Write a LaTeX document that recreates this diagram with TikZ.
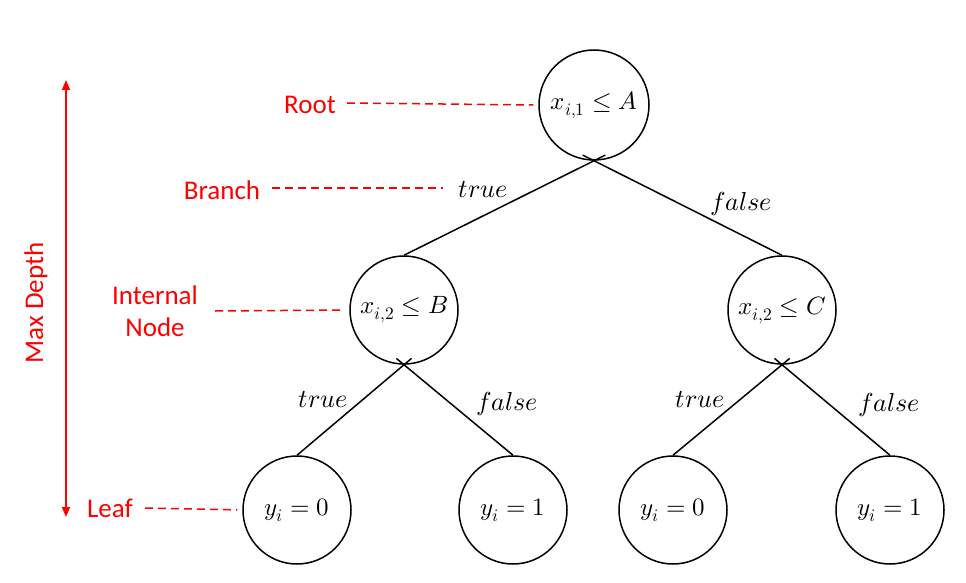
\documentclass[tikz,border=0pt]{standalone}
\usepackage{fontspec}
\usepackage{unicode-math}
\setmainfont{Carlito}
\setmathfont{Latin Modern Math}
\usetikzlibrary{calc,arrows.meta}
\begin{document}
\begin{tikzpicture}[x=1pt,y=-1pt,
  tnode/.style={circle,draw,line width=1.5pt,minimum size=108pt,inner sep=0pt,font=\fontsize{25}{30}\selectfont},
  edge/.style={line width=1.5pt},
  elabel/.style={font=\fontsize{26}{31}\selectfont},
  redtext/.style={text=red,font=\fontsize{27}{32}\selectfont,align=center},
  reddash/.style={red,line width=1.5pt,dash pattern=on 8pt off 5pt,shorten >=5pt}]
\useasboundingbox (0,0) rectangle (966,583);
% nodes
\node[tnode,minimum size=110pt] (root) at (594,105) {$x_{i,1}\leq A$};
\node[tnode] (intL) at (404,310) {$x_{i,2}\leq B$};
\node[tnode] (intR) at (782,310) {$x_{i,2}\leq C$};
\node[tnode] (l1) at (297,510) {$y_i=0$};
\node[tnode] (l2) at (513,510) {$y_i=1$};
\node[tnode] (l3) at (673,510) {$y_i=0$};
\node[tnode] (l4) at (890,510) {$y_i=1$};
% edges
\draw[edge] (intL.north) -- ($(intL.north)!1.06!(root.south)$);
\draw[edge] (intR.north) -- ($(intR.north)!1.06!(root.south)$);
\draw[edge] (l1.north) -- ($(l1.north)!1.07!(intL.south)$);
\draw[edge] (l2.north) -- ($(l2.north)!1.07!(intL.south)$);
\draw[edge] (l3.north) -- ($(l3.north)!1.07!(intR.south)$);
\draw[edge] (l4.north) -- ($(l4.north)!1.07!(intR.south)$);
% edge labels
\node[elabel] (t1) at (483,190) {$true$};
\node[elabel] (f1) at (741,204) {$false$};
\node[elabel] (t2) at (323,400) {$true$};
\node[elabel] (f2) at (507,404) {$false$};
\node[elabel] (t3) at (700,400) {$true$};
\node[elabel] (f3) at (889,405) {$false$};
% red annotations
\node[redtext] (lroot) at (310,105) {Root};
\node[redtext] (lbranch) at (222,190) {Branch};
\node[redtext] (linternal) at (155,311) {Internal\\Node};
\node[redtext] (lleaf) at (110,508) {Leaf};
\coordinate (bbranch) at (448,188);
\draw[reddash] (347,103) -- (root.west);
\draw[reddash] (272,188) -- (bbranch);
\draw[reddash] (215,311) -- (intL.west);
\draw[reddash] (145,508) -- (l1.west);
\coordinate (dtop) at (66,80);
\coordinate (dbot) at (66,517);
\draw[red,line width=1.5pt,{Triangle[width=8pt,length=10pt]}-{Triangle[width=8pt,length=10pt]}] (dtop) -- (dbot);
\node[redtext,rotate=90] (maxd) at (36,303) {Max Depth};
\end{tikzpicture}
\end{document}
